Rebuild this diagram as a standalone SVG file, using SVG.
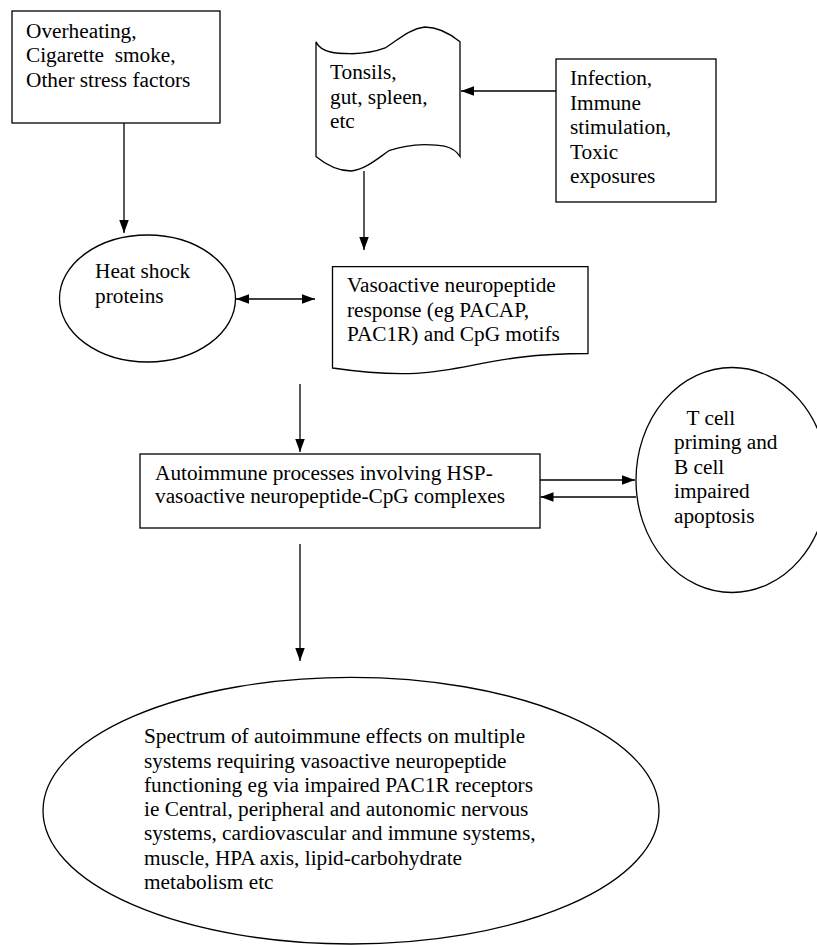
<svg xmlns="http://www.w3.org/2000/svg" width="817" height="945" viewBox="0 0 817 945">
<style>
  .shape { fill: #fff; stroke: #000; stroke-width: 1.3; }
  .conn { fill: none; stroke: #000; stroke-width: 1.3; }
  text { font-family: "Liberation Serif", "Times New Roman", serif; font-size: 21.3px; fill: #000; }
</style>
<defs>
  <marker id="ah" markerUnits="userSpaceOnUse" markerWidth="14" markerHeight="10" refX="13" refY="4.75" orient="auto-start-reverse">
    <path d="M0,0 L13,4.75 L0,9.5 Z" fill="#000"/>
  </marker>
</defs>
<rect width="817" height="945" fill="#fff"/>

<g id="stress">
  <rect class="shape" x="12" y="11" width="208" height="112"/>
  <text x="26" y="37.5">Overheating,</text>
  <text x="26" y="62" xml:space="preserve">Cigarette  smoke,</text>
  <text x="26" y="86.5">Other stress factors</text>
</g>

<g id="tonsils">
  <path class="shape" d="M316,41.87 C321.47,53.6 338.73,53.53 351.8,53.74 C365.53,53.41 375.72,51.57 385.2,47.94 C397.53,40.38 408.89,28.92 424.69,26.99 C437.87,26.99 451.58,34.92 460,41.87 L460,156.47 C452.88,144.67 437.27,144.6 424.2,144.53 C410.3,144.96 400.56,146.71 389.6,150.33 C378.41,157.79 365.57,169.58 351.4,171 C337.55,171 324.67,163.67 316,156.47 Z"/>
  <text x="330" y="79.3">Tonsils,</text>
  <text x="330" y="104">gut, spleen,</text>
  <text x="330" y="128.3">etc</text>
</g>

<g id="infection">
  <rect class="shape" x="556" y="59" width="160" height="143"/>
  <text x="570" y="85">Infection,</text>
  <text x="570" y="109.5">Immune</text>
  <text x="570" y="134">stimulation,</text>
  <text x="570" y="158.5">Toxic</text>
  <text x="570" y="183">exposures</text>
</g>

<g id="hsp">
  <ellipse class="shape" cx="147.5" cy="298.5" rx="88" ry="63.5"/>
  <text x="95" y="278.3">Heat shock</text>
  <text x="95" y="302.5">proteins</text>
</g>

<g id="vasoactive">
  <path class="shape" d="M332.5,266.7 H588 V353.5 C460,353.5 460,386.6 332.5,368 Z"/>
  <text x="347" y="292.3">Vasoactive neuropeptide</text>
  <text x="347" y="316.7">response (eg PACAP,</text>
  <text x="347" y="341">PAC1R) and CpG motifs</text>
</g>

<g id="autoimmune">
  <rect class="shape" x="140" y="454" width="400" height="74"/>
  <text x="155" y="479.5">Autoimmune processes involving HSP-</text>
  <text x="155" y="503">vasoactive neuropeptide-CpG complexes</text>
</g>

<g id="tcell">
  <ellipse class="shape" cx="732" cy="480" rx="96" ry="112.5"/>
  <text x="686.5" y="425">T cell</text>
  <text x="674" y="449.3">priming and</text>
  <text x="674" y="473.5">B cell</text>
  <text x="674" y="498">impaired</text>
  <text x="674" y="522.5">apoptosis</text>
</g>

<g id="spectrum">
  <ellipse class="shape" cx="351" cy="810.7" rx="308" ry="133.3"/>
  <text x="144" y="743.3">Spectrum of autoimmune effects on multiple</text>
  <text x="144" y="767.5">systems requiring vasoactive neuropeptide</text>
  <text x="144" y="791.8">functioning eg via impaired PAC1R receptors</text>
  <text x="144" y="816">ie Central, peripheral and autonomic nervous</text>
  <text x="144" y="840.3">systems, cardiovascular and immune systems,</text>
  <text x="144" y="864.5">muscle, HPA axis, lipid-carbohydrate</text>
  <text x="144" y="889">metabolism etc</text>
</g>

<g id="connectors">
  <path class="conn" d="M124,123 V233" marker-end="url(#ah)"/>
  <path class="conn" d="M556,91 H461" marker-end="url(#ah)"/>
  <path class="conn" d="M364,171 V250" marker-end="url(#ah)"/>
  <path class="conn" d="M236,299 H315" marker-start="url(#ah)" marker-end="url(#ah)"/>
  <path class="conn" d="M300,384 V452" marker-end="url(#ah)"/>
  <path class="conn" d="M540,480 H635" marker-end="url(#ah)"/>
  <path class="conn" d="M636,497 H540.5" marker-end="url(#ah)"/>
  <path class="conn" d="M300,544 V661" marker-end="url(#ah)"/>
</g>
</svg>
